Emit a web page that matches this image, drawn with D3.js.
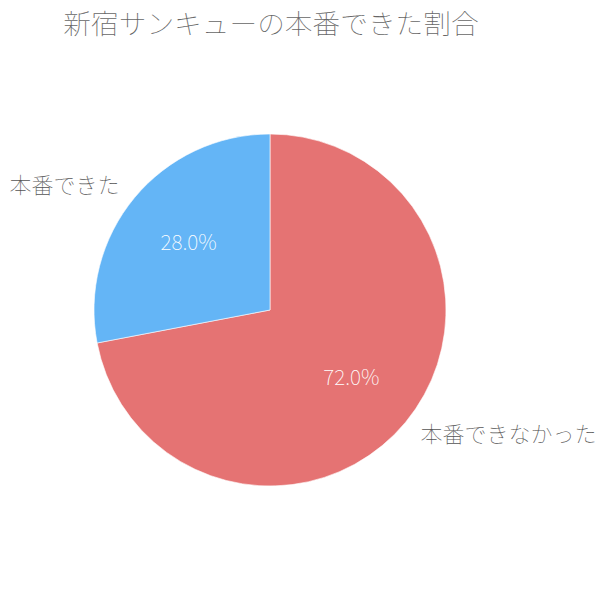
<!DOCTYPE html>
<html>
<head>
<meta charset="utf-8">
<script src="https://cdn.jsdelivr.net/npm/d3@7"></script>
<style>
	body{margin:0;background:#fff;}
	text{font-family:"Noto Sans CJK JP","Noto Sans",sans-serif;font-weight:100;}
</style>
</head>
<body>
<div id="chart"></div>
<script>
// datos del grafico
var titulo = "新宿サンキューの本番できた割合";
var categorias = ["本番できなかった","本番できた"];
var valores = [72.0, 28.0];
var colores = ["#e57373","#64b5f6"];

var width = 607, height = 590;
var cx = 270, cy = 310, radio = 176;

var svg = d3.select("#chart")
		.append("svg")
		.attr("width",width)
		.attr("height",height);

svg.append("text")
	.attr("class","titulo")
	.attr("x",cx+1)
	.attr("y",34)
	.attr("text-anchor","middle")
	.attr("fill","#666")
	.style("font-size","27.7px")
	.text(titulo);

var pie = d3.pie().sort(null).value(function(d){return d;});
var arcos = pie(valores);

var arco = d3.arc().innerRadius(0).outerRadius(radio);
var arcoValor = d3.arc().innerRadius(radio*0.6).outerRadius(radio*0.6);
var arcoEtiqueta = d3.arc().innerRadius(radio*1.11).outerRadius(radio*1.11);

var g = svg.append("g")
	.attr("transform","translate("+cx+","+cy+")");

g.selectAll(".rebanada").data(arcos)
	.enter().append("path")
	.attr("class","rebanada")
	.attr("d",arco)
	.attr("fill",function(d,i){return colores[i];})
	.attr("stroke","rgba(255,255,255,0.6)")
	.attr("stroke-width",1);

//porcentajes dentro
g.selectAll(".valor").data(arcos)
	.enter().append("text")
	.attr("class","valor")
	.attr("transform",function(d){return "translate("+arcoValor.centroid(d)+")";})
	.attr("text-anchor","middle")
	.attr("dy","0.35em")
	.attr("fill","#fff")
	.style("font-size","21px")
	.text(function(d){return d.data.toFixed(1)+"%";});

//nombres afuera
g.selectAll(".etiqueta").data(arcos)
	.enter().append("text")
	.attr("class","etiqueta")
	.attr("transform",function(d){return "translate("+arcoEtiqueta.centroid(d)+")";})
	.attr("text-anchor",function(d){
		var medio = (d.startAngle+d.endAngle)/2;
		return medio < Math.PI ? "start" : "end";
	})
	.attr("dy","0.35em")
	.attr("fill","#555")
	.style("font-size","22px")
	.text(function(d,i){return categorias[i];});
</script>
</body>
</html>
